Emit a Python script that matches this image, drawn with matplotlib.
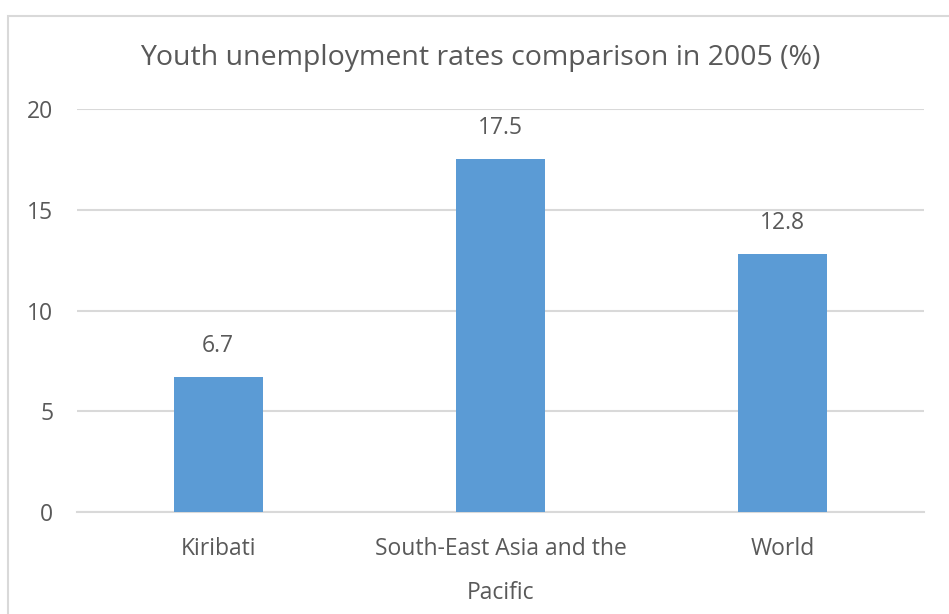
import matplotlib.pyplot as plt
from matplotlib.patches import Rectangle

# データ
categories = ['Kiribati', 'South-East Asia and the\nPacific', 'World']
values = [6.7, 17.5, 12.8]
value_labels = ['6.7', '17.5', '12.8']
y_ticks = [0, 5, 10, 15, 20]

BAR_COLOR = '#5B9BD5'
TEXT_COLOR = '#595959'
GRID_COLOR = '#D9D9D9'

plt.rcParams['font.family'] = ['Open Sans', 'DejaVu Sans']


def main():
    fig = plt.figure(figsize=(9.49, 6.14), dpi=100)

    # chart area border (cut off at the right and bottom)
    fig.patches.append(Rectangle((8 / 949, -0.05), 1.2, 1 - 16 / 614 + 0.05,
                                 transform=fig.transFigure, fill=False,
                                 edgecolor=GRID_COLOR, linewidth=1.5))

    ax = fig.add_axes([77 / 949, 1 - 512 / 614, 847 / 949, 403 / 614])
    x = range(len(categories))
    bars = ax.bar(x, values, width=0.315, color=BAR_COLOR, zorder=3)

    for bar, lab in zip(bars, value_labels):
        ax.annotate(lab, (bar.get_x() + bar.get_width() / 2, bar.get_height()),
                    xytext=(0, 22.5), textcoords='offset points',
                    ha='center', va='center', fontsize=16.5, color=TEXT_COLOR)

    ax.set_xlim(-0.5, 2.5)
    ax.set_ylim(0, 20)
    ax.set_yticks(y_ticks)
    ax.set_xticks(list(x))
    ax.set_xticklabels(categories, linespacing=2.1, va='top')
    ax.tick_params(axis='both', length=0, colors=TEXT_COLOR, labelsize=16.5)
    ax.tick_params(axis='y', pad=17)
    ax.tick_params(axis='x', pad=18)
    ax.grid(axis='y', color=GRID_COLOR, linewidth=1.5, zorder=0)
    for side in ['top', 'right', 'left']:
        ax.spines[side].set_visible(False)
    ax.spines['bottom'].set_color(GRID_COLOR)
    ax.spines['bottom'].set_linewidth(1.5)

    fig.text(480 / 949, 1 - 58 / 614, 'Youth unemployment rates comparison in 2005 (%)',
             ha='center', va='center', fontsize=20.5, color=TEXT_COLOR)

    fig.savefig('out.png', dpi=100)


if __name__ == '__main__':
    main()
